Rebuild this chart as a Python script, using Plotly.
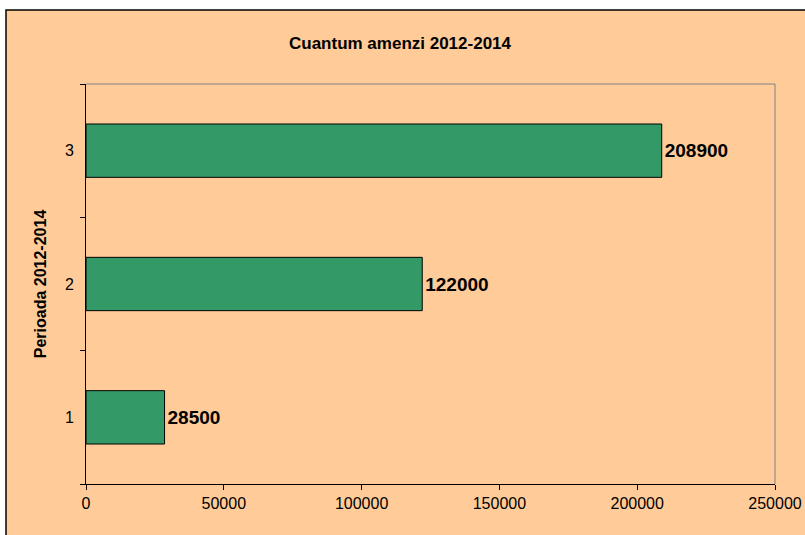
import plotly.graph_objects as go

categories = ["1", "2", "3"]
values = [28500, 122000, 208900]
x_ticks = [0, 50000, 100000, 150000, 200000, 250000]

W, H = 805, 535
L, R, T, B = 86, 30, 84, 51
pw, ph = W - L - R, H - T - B

fig = go.Figure(go.Bar(
    y=categories, x=values, orientation="h",
    marker=dict(color="#339966", line=dict(color="#000000", width=1)),
    text=[str(v) for v in values], textposition="outside",
    textfont=dict(family="Liberation Sans, Arial", size=19, color="#000000", weight="bold"),
    cliponaxis=False,
))

bg = "#FFCC99"
fig.update_layout(
    width=W, height=H,
    margin=dict(l=L, r=R, t=T, b=B, autoexpand=False),
    paper_bgcolor="#FFFFFF", plot_bgcolor=bg,
    bargap=0.6,
    showlegend=False,
    font=dict(family="Liberation Sans, Arial", size=16, color="#000000"),
    title=dict(text="<b>Cuantum amenzi 2012-2014</b>", x=(400 - L) / pw, xref="paper",
               xanchor="center", y=1 - 43 / H, yanchor="middle",
               font=dict(size=17)),
    xaxis=dict(range=[0, 250000], tickvals=x_ticks, ticktext=[str(v) for v in x_ticks],
               ticks="outside", ticklen=5, tickcolor="#000000", showline=True,
               linecolor="#000000", linewidth=1, showgrid=False, zeroline=False,
               tickfont=dict(size=16), automargin=False),
    yaxis=dict(type="category", categoryorder="array", categoryarray=categories,
               range=[-0.5, 2.5], tickson="boundaries", ticks="outside", ticklen=5,
               tickcolor="#000000", showline=True, linecolor="#000000", linewidth=1,
               showgrid=False, zeroline=False, ticklabelstandoff=8,
               tickfont=dict(size=16), automargin=False,
               title=dict(text="<b>Perioada 2012-2014</b>", standoff=14, font=dict(size=16))),
    shapes=[
        # outer chart border with peach fill
        dict(type="rect", xref="paper", yref="paper",
             x0=(6 - L) / pw, x1=(W + 10 - L) / pw,
             y0=-(B + 10) / ph, y1=1 + (T - 10) / ph,
             fillcolor=bg, line=dict(color="#000000", width=1.5), layer="below"),
        # plot area grey border top/right
        dict(type="line", xref="paper", yref="paper", x0=0, x1=1, y0=1, y1=1,
             line=dict(color="#808080", width=1)),
        dict(type="line", xref="paper", yref="paper", x0=1, x1=1, y0=0, y1=1,
             line=dict(color="#808080", width=1)),
    ],
)

fig.write_html("out.html", config={"displayModeBar": False},
               post_script="document.body.style.margin='0';")
